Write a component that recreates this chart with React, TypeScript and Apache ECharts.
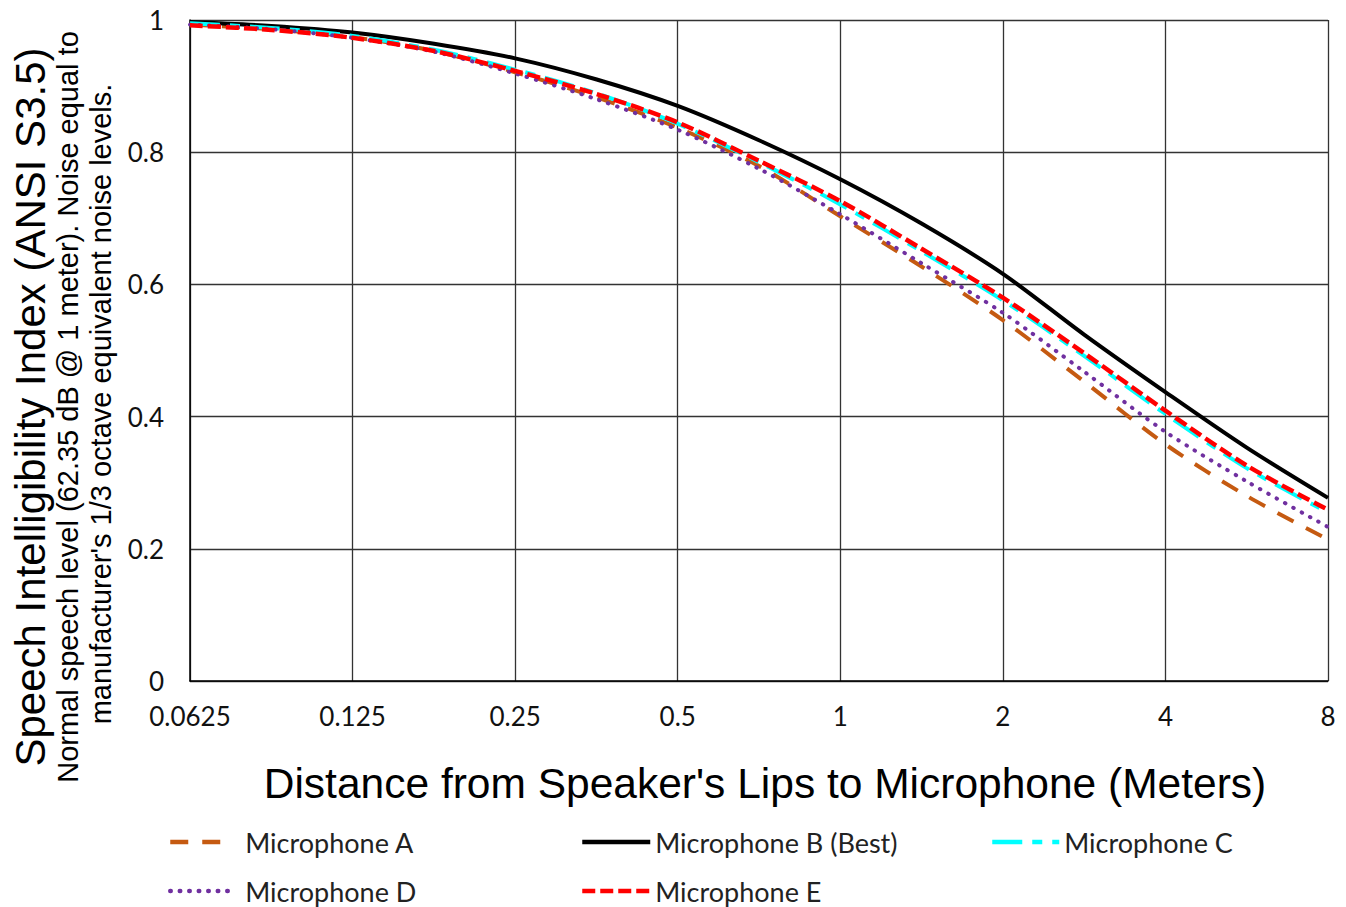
import React, { useEffect, useRef } from "react";
import * as echarts from "echarts";

const DISTANCES = [0.0625, 0.0884, 0.125, 0.177, 0.25, 0.354, 0.5, 0.707, 1, 1.414, 2, 2.828, 4, 5.657, 8];

const MIC_A = [0.993, 0.986, 0.974, 0.953, 0.921, 0.883, 0.837, 0.779, 0.703, 0.627, 0.546, 0.453, 0.358, 0.28, 0.214];
const MIC_B = [0.997, 0.991, 0.981, 0.964, 0.942, 0.91, 0.87, 0.818, 0.759, 0.692, 0.616, 0.524, 0.437, 0.353, 0.277];
const MIC_C = [0.995, 0.988, 0.976, 0.955, 0.925, 0.889, 0.843, 0.785, 0.721, 0.65, 0.576, 0.492, 0.404, 0.322, 0.255];
const MIC_D = [0.993, 0.986, 0.973, 0.952, 0.919, 0.88, 0.834, 0.775, 0.706, 0.632, 0.557, 0.468, 0.377, 0.302, 0.233];
const MIC_E = [0.992, 0.985, 0.973, 0.953, 0.923, 0.888, 0.845, 0.787, 0.726, 0.654, 0.58, 0.496, 0.409, 0.326, 0.259];

const SERIES_NAMES = ["Microphone A", "Microphone B (Best)", "Microphone C", "Microphone D", "Microphone E"];

const X_TITLE = "Distance from Speaker's Lips to Microphone (Meters)";
const Y_TITLE = "Speech Intelligibility Index (ANSI S3.5)";
const Y_SUB1 = "Normal speech level (62.35 dB @ 1 meter). Noise equal to";
const Y_SUB2 = "manufacturer's 1/3 octave equivalent noise levels.";

const pairs = (ys: number[]) => DISTANCES.map((x, i) => [x, ys[i]]);

export default function App() {
  const ref = useRef<HTMLDivElement>(null);
  useEffect(() => {
    if (!ref.current) return;
    const chart = echarts.init(ref.current, null, { renderer: "svg" });
    const labelFont = "Lato";
    const mkSeries = (name: string, data: number[], color: string, width: number, type: any, cap: any = "butt") => ({
      name,
      type: "line",
      data: pairs(data),
      smooth: 0.3,
      symbol: "none",
      showSymbol: false,
      lineStyle: { color, width, type, cap },
      itemStyle: { color },
    });
    const mkLegend = (name: string, left: number, top: number, itemWidth: number, pad: number) => ({
      data: [name],
      left,
      top,
      padding: 0,
      orient: "horizontal",
      itemWidth,
      itemHeight: 14,
      selectedMode: false,
      itemStyle: { opacity: 0, borderWidth: 0 },
      lineStyle: { width: 4.5 },
      textStyle: { fontFamily: labelFont, fontSize: 27, color: "#222", padding: [0, 0, 0, pad], lineHeight: 30 },
    });
    chart.setOption({
      animation: false,
      backgroundColor: "#fff",
      grid: { left: 190, right: 18, top: 20, bottom: 226, containLabel: false },
      xAxis: {
        type: "log",
        logBase: 2,
        min: 0.0625,
        max: 8,
        splitNumber: 7,
        axisLine: { show: true, lineStyle: { color: "#000", width: 1.5 } },
        axisTick: { show: false },
        splitLine: { show: true, lineStyle: { color: "#333", width: 1.3 } },
        minorSplitLine: { show: false },
        axisLabel: {
          fontFamily: labelFont,
          fontSize: 26,
          color: "#111",
          margin: 22,
          formatter: (v: number) => String(Number(v.toPrecision(6))),
        },
      },
      yAxis: {
        type: "value",
        min: 0,
        max: 1,
        interval: 0.2,
        axisLine: { show: true, lineStyle: { color: "#000", width: 1.5 } },
        axisTick: { show: false },
        splitLine: { show: true, lineStyle: { color: "#333", width: 1.3 } },
        axisLabel: {
          fontFamily: labelFont,
          fontSize: 26,
          color: "#111",
          margin: 26,
          formatter: (v: number) => String(Number(v.toFixed(1))),
        },
      },
      legend: [
        mkLegend(SERIES_NAMES[0], 168, 827, 64, 6),
        mkLegend(SERIES_NAMES[1], 580, 827, 68, 0),
        mkLegend(SERIES_NAMES[2], 990, 827, 67, 0),
        mkLegend(SERIES_NAMES[3], 168, 876, 64, 6),
        mkLegend(SERIES_NAMES[4], 580, 876, 68, 0),
      ],
      series: [
        mkSeries(SERIES_NAMES[0], MIC_A, "#C55A11", 4, [18, 14]),
        mkSeries(SERIES_NAMES[1], MIC_B, "#000000", 4, "solid"),
        mkSeries(SERIES_NAMES[2], MIC_C, "#00FFFF", 4, [30, 10, 10, 10]),
        mkSeries(SERIES_NAMES[3], MIC_D, "#7030A0", 4, [0.5, 9], "round"),
        mkSeries(SERIES_NAMES[4], MIC_E, "#FF0000", 4.5, [13, 5]),
      ],
      graphic: [
        {
          type: "text",
          x: 30,
          y: 407,
          rotation: Math.PI / 2,
          style: { text: Y_TITLE, fontFamily: "Liberation Sans", fontSize: 42, fill: "#000", align: "center", verticalAlign: "middle" },
        },
        {
          type: "text",
          x: 68,
          y: 407,
          rotation: Math.PI / 2,
          style: { text: Y_SUB1, fontFamily: "Liberation Sans", fontSize: 29, fill: "#000", align: "center", verticalAlign: "middle" },
        },
        {
          type: "text",
          x: 101,
          y: 404,
          rotation: Math.PI / 2,
          style: { text: Y_SUB2, fontFamily: "Liberation Sans", fontSize: 29, fill: "#000", align: "center", verticalAlign: "middle" },
        },
        {
          type: "text",
          x: 765,
          y: 783,
          style: { text: X_TITLE, fontFamily: "Liberation Sans", fontSize: 42.5, fill: "#000", align: "center", verticalAlign: "middle" },
        },
      ],
    });
    return () => chart.dispose();
  }, []);
  return <div ref={ref} style={{ position: "fixed", left: 0, top: 0, width: 1346, height: 907 }} />;
}
